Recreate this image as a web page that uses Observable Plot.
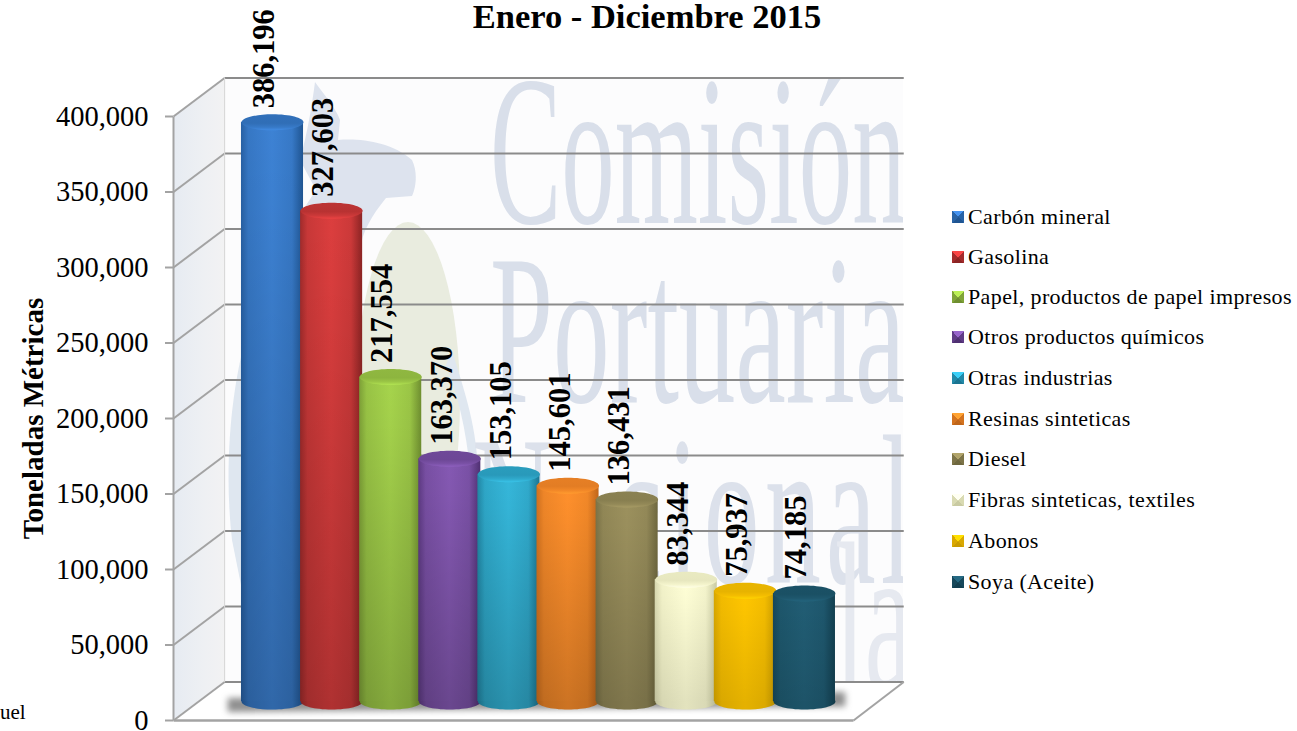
<!DOCTYPE html>
<html lang="es">
<head>
<meta charset="utf-8">
<script src="https://cdn.jsdelivr.net/npm/d3@7"></script>
<script src="https://cdn.jsdelivr.net/npm/@observablehq/plot@0.6"></script>
<style>
html,body{margin:0;padding:0;background:#fff;overflow:hidden}
#wrap{position:relative;width:1297px;height:731px;font-family:"Liberation Serif",serif;color:#000}
#wrap svg{display:block}
#title{position:absolute;left:647px;top:0;transform:translateX(-50%);font-size:34.5px;font-weight:bold;white-space:nowrap;line-height:32px}
#stub{position:absolute;left:0;top:699px;font-size:21px;line-height:26px}
#legend{position:absolute;left:952px;top:0}
.item{position:absolute;left:0;white-space:nowrap;font-size:22px;line-height:24px;height:24px;display:flex;align-items:center;letter-spacing:.38px}
.sw{display:inline-block;width:12px;height:12px;margin-right:4px;flex:none}
</style>
</head>
<body>
<div id="wrap">
  <div id="chart"></div>
  <div id="title">Enero - Diciembre 2015</div>
  <div id="stub">uel</div>
  <div id="legend"></div>
</div>
<script>
const categories = ["Carbón mineral","Gasolina","Papel, productos de papel impresos","Otros productos químicos","Otras industrias","Resinas sinteticas","Diesel","Fibras sinteticas, textiles","Abonos","Soya (Aceite)"];
const values = [386196,327603,217554,163370,153105,145601,136431,83344,75937,74185];
const centerColors = ["#3d82d4","#dc3e3e","#a6d44c","#8559b3","#35b7da","#ff902c","#9c915e","#ffffd6","#ffc600","#215d74"];
const edgeColors = ["#1f5592","#8c2424","#6f8f30","#4f3072","#1a7592","#c0661a","#6f683f","#c9caa2","#c99b00","#123f50"];
const yTicks = [0,50000,100000,150000,200000,250000,300000,350000,400000];
const legendRows = [217,257,297,337,378,419,459,500,541,582];

const fmt = d3.format(",");
const rows = categories.map((c,i)=>({c,i,v:values[i]}));
const NS = "http://www.w3.org/2000/svg";
const el = (n,a={},parent)=>{const e=document.createElementNS(NS,n);for(const k in a)e.setAttribute(k,a[k]);if(parent)parent.appendChild(e);return e;};
const k = v=>()=>v;

// chart frame, in scale units
const X0=-1.675, X1=9.83, BX0=-0.81, BX1=10.68, DEPTH=25500, TOP=400000;
const cyl = {draw(ctx){ // flattened disc for the cylinder ends
  const rx=31, ry=8, c=0.5523;
  ctx.moveTo(-rx,0);
  ctx.bezierCurveTo(-rx,-ry*c,-rx*c,-ry,0,-ry);
  ctx.bezierCurveTo(rx*c,-ry,rx,-ry*c,rx,0);
  ctx.bezierCurveTo(rx,ry*c,rx*c,ry,0,ry);
  ctx.bezierCurveTo(-rx*c,ry,-rx,ry*c,-rx,0);
  ctx.closePath();
}};

function defs(){
  const d=el("defs");
  const grad=(id,vertical,stops)=>{
    const g=el("linearGradient",{id,x1:0,y1:0,x2:vertical?0:1,y2:vertical?1:0},d);
    stops.forEach(([o,c,a])=>el("stop",{offset:o,"stop-color":c,"stop-opacity":a==null?1:a},g));
  };
  categories.forEach((_,i)=>{
    const c=centerColors[i], e=edgeColors[i], mix=d3.interpolateRgb(e,c);
    grad(`body${i}`,false,[[0,mix(.25)],[.12,mix(.75)],[.5,c],[.82,mix(.8)],[1,e]]);
    grad(`cap${i}`,true,[[0,mix(.6)],[.55,mix(.55)],[.8,mix(.8)],[1,d3.rgb(c).brighter(.2).formatHex()]]);
  });
  grad("shade",true,[[0,"#000",0],[.15,"#000",.02],[1,"#000",.2]]);
  grad("sidewall",false,[[0,"#e6ebf2"],[.6,"#eef0f3"],[1,"#f2f2f3"]]);
  const cp=el("clipPath",{id:"wallclip"},d);
  el("rect",{x:224,y:77,width:679,height:605},cp);
  return d;
}

function watermark(){
  const g=el("g",{"clip-path":"url(#wallclip)"});
  el("ellipse",{cx:408,cy:400,rx:52,ry:178,fill:"#e9ecdf"},g);
  el("path",{fill:"#dde3ee",d:"M315 82 C322 92 336 108 340 120 L338 140 C360 138 392 142 412 160 C418 172 416 188 412 196 L386 198 C372 215 362 232 360 250 C352 262 340 300 330 340 L250 340 C262 290 282 240 316 190 L300 160 C308 130 312 105 315 82 Z"},g);
  el("path",{fill:"#dfe7f0",d:"M248 330 C230 390 224 470 232 540 L244 600 L262 600 L262 330 Z"},g);
  el("path",{fill:"#dfe7f0",d:"M452 350 C462 385 476 420 478 470 L470 470 C466 430 458 395 446 365 Z"},g);
  [["Comisión",490,223,.497,"#d9dfea",0],["Portuaria",490,402,.527,"#d9dfea",0],["Nacional",472,583,.52,"#dce1eb",10],["la",835,690,.5,"#e6e9f0",0]].forEach(([t,x,y,s,f,ls])=>{
    const n=el("text",{transform:`translate(${x},${y}) scale(${s},1)`,"font-size":215,"font-family":"Liberation Serif","text-anchor":"start","letter-spacing":ls,fill:f},g);
    n.textContent=t;
  });
  return g;
}

const blur=(px)=>(index,scales,channels,dims,ctx,next)=>{
  const g=next(index,scales,channels,dims,ctx);
  g.style.filter=`blur(${px}px)`;
  return g;
};

const wallPts=[{x:X0,a:0,b:TOP},{x:BX0,a:DEPTH,b:TOP+DEPTH}];
const floorPts=[{x:X0,a:0,x2:X1},{x:BX0,a:DEPTH,x2:BX1}];
const shadowPts=[{x:-.75,a:5300,b:14500},{x:9.7,a:9000,b:18500}];
const gridColor="#8b8b8b", sideColor="#a3a3a3";

const barMarks = rows.flatMap(r=>{
  const d=[r];
  const base={x1:k(r.i-.525),x2:k(r.i+.525),y1:k(2650),y2:"v",dy:-15};
  const shadeAmt=Math.min(1,r.v/150000);
  return [
    Plot.dot(d,{x:"i",y:k(0),dy:-19,r:31,symbol:cyl,fill:`url(#body${r.i})`,stroke:"none"}),
    Plot.dot(d,{x:"i",y:k(0),dy:-19,r:31,symbol:cyl,fill:"#000",fillOpacity:.2*shadeAmt,stroke:"none"}),
    Plot.rect(d,{...base,fill:`url(#body${r.i})`}),
    Plot.rect(d,{...base,fill:"url(#shade)",fillOpacity:shadeAmt}),
    Plot.dot(d,{x:"i",y:"v",dy:-15,r:31,symbol:cyl,fill:`url(#cap${r.i})`,stroke:"none"})
  ];
});

const chart = Plot.plot({
  width:1297,height:731,marginLeft:173,marginTop:0,marginBottom:0,marginRight:0,
  style:{background:"transparent",fontFamily:"Liberation Serif",overflow:"visible",color:"#000"},
  x:{domain:[X0,X1],range:[173,853],axis:null},
  y:{domain:[0,TOP],range:[720,116]},
  marks:[
    defs,
    Plot.rect([0],{x1:k(BX0),x2:k(BX1),y1:k(DEPTH),y2:k(TOP+DEPTH),fill:"#fcfcfd"}),
    Plot.area(wallPts,{x1:"x",y1:"a",y2:"b",fill:"url(#sidewall)"}),
    watermark,
    Plot.area(floorPts,{x1:"x",x2:"x2",y1:"a",fill:"#ffffff"}),
    // back wall gridlines and their returns on the side wall
    Plot.link(yTicks,{x1:k(BX0),x2:k(BX1),y1:d=>d+DEPTH,y2:d=>d+DEPTH,stroke:gridColor,strokeWidth:2}),
    Plot.link(yTicks,{x1:k(X0),x2:k(BX0),y1:d=>d,y2:d=>d+DEPTH,stroke:sideColor,strokeWidth:2}),
    Plot.link([0],{x1:k(X0),x2:k(X1),y1:k(0),y2:k(0),stroke:sideColor,strokeWidth:2.5}),
    Plot.link([0],{x1:k(X1),x2:k(BX1),y1:k(0),y2:k(DEPTH),stroke:sideColor,strokeWidth:2}),
    Plot.link([0],{x1:k(X0),x2:k(X0),y1:k(0),y2:k(TOP),stroke:sideColor,strokeWidth:2}),
    Plot.link([0],{x1:k(BX0),x2:k(BX0),y1:k(DEPTH),y2:k(TOP+DEPTH),stroke:"#d4d4d4",strokeWidth:1}),
    Plot.axisY({ticks:yTicks,tickFormat:fmt,tickSize:8,tickPadding:17,fontSize:28.5,stroke:sideColor,fill:"#000",label:null,strokeWidth:2}),
    Plot.text(["Toneladas Métricas"],{x:k(-4.04),y:k(200000),rotate:-90,fontSize:29,fontWeight:"bold",fill:"#000"}),
    // floor shadow
    Plot.area(shadowPts,{x1:"x",y1:"a",y2:"b",fill:"#555",fillOpacity:.65,render:blur(3)}),
    ...barMarks,
    Plot.text(rows,{x:"i",y:"v",text:d=>fmt(d.v),rotate:-90,textAnchor:"start",lineAnchor:"middle",dx:-8,dy:-29,fontSize:30.5,fontWeight:"bold",fill:"#000"})
  ]
});
document.getElementById("chart").appendChild(chart);

const legend=document.getElementById("legend");
categories.forEach((c,i)=>{
  const it=document.createElement("div");it.className="item";it.style.top=(legendRows[i]-12)+"px";
  const sw=document.createElement("span");sw.className="sw";
  const mix=d3.interpolateRgb(edgeColors[i],centerColors[i]);
  const a=d3.rgb(centerColors[i]).brighter(.35).formatHex(), m=mix(.3), e=edgeColors[i];
  sw.style.background=`conic-gradient(from -45deg, ${a} 0 90deg, ${m} 90deg 180deg, ${e} 180deg 270deg, ${m} 270deg 360deg)`;
  it.appendChild(sw);
  it.appendChild(document.createTextNode(c));
  legend.appendChild(it);
});
</script>
</body>
</html>
